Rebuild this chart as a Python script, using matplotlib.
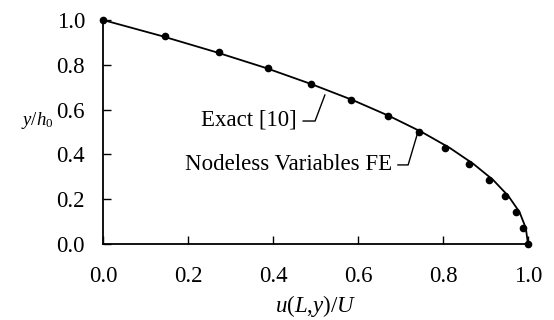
import matplotlib
matplotlib.use("Agg")
import matplotlib.pyplot as plt

# Data
y_vals = [1.0, 0.929, 0.857, 0.786, 0.714, 0.643, 0.571, 0.5, 0.429, 0.357, 0.286, 0.214, 0.143, 0.071, 0.0]
u_fe = [0.0, 0.146, 0.273, 0.388, 0.49, 0.584, 0.67, 0.743, 0.805, 0.861, 0.908, 0.946, 0.972, 0.988, 1.0]
u_exact = [0.0, 0.137, 0.265, 0.383, 0.49, 0.587, 0.674, 0.75, 0.816, 0.872, 0.918, 0.954, 0.980, 0.995, 1.0]
xticks = [0.0, 0.2, 0.4, 0.6, 0.8, 1.0]
yticks = [0.0, 0.2, 0.4, 0.6, 0.8, 1.0]

plt.rcParams['font.family'] = ['Liberation Serif', 'DejaVu Serif']
plt.rcParams['mathtext.fontset'] = 'custom'
plt.rcParams['mathtext.it'] = 'Liberation Serif:italic'
plt.rcParams['mathtext.rm'] = 'Liberation Serif'

FS = 16.5

fig = plt.figure(figsize=(5.54, 3.20), dpi=100)
ax = fig.add_axes([0.186, 0.2375, 0.767, 0.70])

ax.plot(u_exact, y_vals, color='black', lw=1.3, clip_on=False, zorder=3)
ax.plot(u_fe, y_vals, linestyle='none', marker='o', ms=4.5, color='black', clip_on=False, zorder=4)

ax.set_xlim(0, 1)
ax.set_ylim(0, 1)
ax.set_xticks(xticks)
ax.set_yticks(yticks)
ax.set_xticklabels([f"{t:.1f}" for t in xticks])
ax.set_yticklabels([f"{t:.1f}" for t in yticks])
for s in ['top', 'right']:
    ax.spines[s].set_visible(False)
for s in ['left', 'bottom']:
    ax.spines[s].set_linewidth(1.3)
ax.tick_params(direction='in', length=6, width=1.0, labelsize=FS)
ax.tick_params(axis='x', pad=16)
ax.tick_params(axis='y', pad=13)

ax.set_xlabel(r'$u(L{,}y)/U$', fontsize=FS, labelpad=4)
ax.set_ylabel(r'$y/h_0$', fontsize=13.5, rotation=0, va='center')
ax.yaxis.set_label_coords(-0.155, 0.55)

# Annotations with leader lines
ax.text(0.456, 0.554, 'Exact [10]', ha='right', va='center', fontsize=FS)
ax.plot([0.471, 0.499, 0.522], [0.549, 0.549, 0.665], color='black', lw=1.0)
ax.text(0.68, 0.357, 'Nodeless Variables FE', ha='right', va='center', fontsize=FS)
ax.plot([0.694, 0.718, 0.741], [0.353, 0.353, 0.5], color='black', lw=1.0)

fig.savefig('out.png', dpi=100)
